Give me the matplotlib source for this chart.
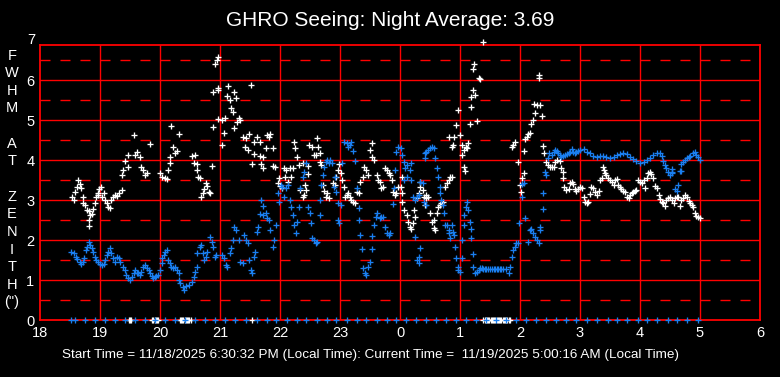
import matplotlib
matplotlib.use("Agg")
import matplotlib.pyplot as plt

# hours after 18:00 local time, FWHM in arcsec
white_hr = [0.53, 0.56, 0.58, 0.61, 0.64, 0.67, 0.69, 0.71, 0.72, 0.75, 0.78, 0.81, 0.82, 0.82, 0.83, 0.86, 0.89,
            0.92, 0.93, 0.96, 0.97, 0.99, 1.01, 1.03, 1.06, 1.08, 1.11, 1.14, 1.17, 1.19, 1.22, 1.25, 1.29, 1.32,
            1.36, 1.37, 1.38, 1.42, 1.46, 1.47, 1.56, 1.58, 1.61, 1.67, 1.69, 1.72, 1.75, 1.79, 1.83, 2.00, 2.04,
            2.08, 2.12, 2.14, 2.16, 2.17, 2.19, 2.21, 2.25, 2.28, 2.31, 2.54, 2.57, 2.58, 2.61, 2.62, 2.64, 2.67,
            2.68, 2.71, 2.73, 2.76, 2.78, 2.81, 2.84, 2.86, 2.88, 2.89, 2.92, 2.95, 2.97, 2.97, 2.97, 2.97,
            3.03, 3.03, 3.06, 3.08, 3.12, 3.14, 3.16, 3.18, 3.21, 3.23, 3.24, 3.27, 3.28, 3.31, 3.33, 3.39, 3.42,
            3.44, 3.47, 3.49, 3.51, 3.54, 3.56, 3.56, 3.61, 3.66, 3.67, 3.69, 3.71, 3.72, 3.77, 3.79, 3.82, 3.83,
            3.88, 3.89, 3.92, 3.96, 3.99, 4.00, 4.03, 4.06, 4.08, 4.10, 4.14, 4.17, 4.19, 4.21, 4.23, 4.25, 4.29,
            4.31, 4.34, 4.38, 4.39, 4.40, 4.42, 4.44, 4.46, 4.47, 4.49, 4.53, 4.56, 4.60, 4.62, 4.64, 4.67, 4.67,
            4.69, 4.71, 4.73, 4.77, 4.78, 4.81, 4.89, 4.92, 4.94, 4.97, 4.99, 5.01, 5.03, 5.06, 5.08, 5.11, 5.14,
            5.17, 5.19, 5.22, 5.25, 5.28, 5.32, 5.34, 5.38, 5.40, 5.44, 5.47, 5.50, 5.53, 5.54, 5.57, 5.61, 5.64,
            5.67, 5.69, 5.72, 5.75, 5.78, 5.81, 5.83, 5.86, 5.89, 5.92, 5.94, 5.97,
            6.03, 6.01, 6.04, 6.03, 6.07, 6.11, 6.14, 6.17, 6.19, 6.22, 6.25, 6.23, 6.28, 6.31, 6.33, 6.34, 6.38,
            6.40, 6.43, 6.44, 6.47, 6.42, 6.50, 6.53, 6.56, 6.58, 6.57, 6.61, 6.64, 6.67, 6.69, 6.71, 6.75, 6.78,
            6.81, 6.83, 6.86, 6.81, 6.86, 6.89, 6.90, 6.93, 6.97, 7.00, 7.03, 7.06, 7.04, 7.10, 7.12, 7.14, 7.06,
            7.08, 7.16, 7.18, 7.19, 7.21, 7.25, 7.29, 7.31, 7.33, 7.23, 7.22, 7.38,
            7.97, 8.06, 8.04, 8.00, 8.01, 8.07, 8.08, 7.89, 7.86, 7.92, 8.11, 8.14, 8.17, 8.19, 8.22, 8.25, 8.23,
            8.29, 8.33, 8.36, 8.31, 8.32, 8.38, 8.40, 8.44, 8.47, 8.50, 8.53, 8.56, 8.58, 8.61, 8.66, 8.69, 8.72,
            8.71, 8.73, 8.77, 8.81, 8.83, 8.86, 8.89, 8.92, 8.94, 8.97,
            9.00, 9.03, 9.06, 9.08, 9.11, 9.14, 9.17, 9.19, 9.22, 9.25, 9.28, 9.31, 9.33, 9.36, 9.38, 9.40, 9.42,
            9.44, 9.47, 9.50, 9.53, 9.56, 9.58, 9.61, 9.64, 9.67, 9.69, 9.72, 9.75, 9.78, 9.81, 9.83, 9.86, 9.89,
            9.92, 9.94, 9.97, 10.00, 10.03, 10.06, 10.08, 10.11, 10.14, 10.17, 10.19, 10.22, 10.25, 10.28, 10.31,
            10.33, 10.36, 10.39, 10.42, 10.44, 10.47, 10.50, 10.53, 10.56, 10.58, 10.61, 10.64, 10.67, 10.69,
            10.72, 10.75, 10.78, 10.81, 10.83, 10.86, 10.89, 10.92, 10.94, 10.97, 11.00]
white_fwhm = [3.08, 3.00, 3.21, 3.33, 3.50, 3.40, 3.29, 3.08, 2.93, 2.88, 2.75, 2.73, 2.50, 2.36, 2.63, 2.65, 2.77,
              2.93, 3.07, 3.17, 3.13, 3.27, 3.33, 3.08, 3.17, 3.00, 2.92, 2.83, 2.79, 3.00, 3.08, 3.13, 3.10, 3.18,
              3.25, 3.62, 3.75, 3.98, 4.12, 3.82, 4.62, 4.12, 4.19, 4.08, 3.82, 3.75, 3.62, 3.68, 4.40, 3.68, 3.58,
              3.54, 3.52, 3.75, 3.93, 4.08, 4.84, 4.32, 4.18, 4.23, 4.64, 4.11, 3.92, 4.12, 3.90, 3.75, 3.57, 3.54,
              3.08, 3.17, 3.27, 3.42, 3.35, 3.21, 3.17, 3.85, 4.82, 5.71, 6.40, 6.50, 6.57, 5.75, 5.02, 5.80,
              5.00, 4.38, 4.67, 5.04, 5.60, 5.85, 5.50, 5.31, 5.21, 4.79, 5.70, 5.55, 4.96, 5.04, 5.00, 4.57, 4.32,
              4.54, 4.25, 4.65, 5.88, 3.90, 4.46, 4.14, 4.58, 4.46, 4.10, 3.90, 3.79, 4.07, 4.29, 4.63, 4.57, 4.65,
              4.29, 3.85, 3.82, 3.43, 3.54, 3.35, 3.29, 3.79, 3.58, 3.75, 3.46, 3.79, 3.58, 3.79, 4.46, 4.29, 4.08,
              3.88, 3.25, 3.08, 3.92, 3.13, 3.38, 3.25, 3.65, 3.85, 4.38, 4.32, 4.13, 4.13, 4.54, 4.32, 4.18, 3.96,
              3.88, 3.38, 3.23, 3.08, 3.17, 3.04, 3.42, 3.38, 3.58, 3.75, 3.90, 3.67, 3.50, 3.33, 3.08, 3.13, 3.17,
              3.08, 3.00, 2.96, 2.92, 3.21, 3.18, 3.46, 3.58, 3.83, 3.75, 3.63, 4.25, 4.42, 4.08, 4.00, 3.63, 3.50,
              3.46, 3.29, 3.33, 3.79, 3.75, 3.67, 3.63, 3.50, 3.21, 3.13, 3.17, 3.33,
              3.58, 3.33, 3.17, 2.96, 2.75, 2.63, 2.46, 2.33, 2.27, 2.42, 2.58, 2.75, 3.04, 3.17, 3.33, 3.46, 3.25,
              3.08, 3.04, 3.13, 3.08, 2.88, 2.67, 2.46, 2.29, 2.25, 2.50, 2.68, 2.83, 2.88, 2.92, 2.96, 3.33, 3.42,
              3.50, 3.58, 3.58, 4.58, 4.33, 4.38, 4.58, 4.88, 5.25, 4.63, 4.38, 4.25, 4.13, 4.33, 4.29, 4.42, 3.83,
              3.73, 4.90, 5.57, 5.32, 5.75, 5.63, 4.98, 6.04, 6.02, 6.40, 6.27, 6.94,
              3.94, 3.67, 3.54, 3.38, 3.21, 4.23, 4.52, 4.38, 4.33, 4.46, 4.58, 4.65, 4.68, 4.90, 5.00, 5.18, 5.40,
              5.38, 5.38, 5.11, 6.13, 6.04, 4.36, 4.18, 3.96, 3.88, 3.83, 3.82, 3.82, 3.96, 4.00, 3.98, 3.79, 3.71,
              3.54, 3.33, 3.25, 3.27, 3.43, 3.46, 3.40, 3.27, 3.23, 3.27,
              3.33, 3.29, 3.07, 2.96, 2.92, 2.96, 3.15, 3.33, 3.29, 3.21, 3.13, 3.23, 3.50, 3.54, 3.83, 3.75, 3.67,
              3.63, 3.54, 3.50, 3.46, 3.38, 3.50, 3.52, 3.38, 3.32, 3.27, 3.23, 3.21, 3.08, 3.04, 3.13, 3.18, 3.21,
              3.23, 3.25, 3.50, 3.46, 3.43, 3.50, 3.29, 3.54, 3.68, 3.71, 3.65, 3.54, 3.35, 3.29, 3.13,
              3.02, 2.96, 2.92, 2.85, 3.00, 3.04, 3.08, 3.00, 2.92, 3.04, 3.07, 3.08, 2.85, 3.00,
              3.04, 3.13, 3.08, 2.98, 2.92, 2.88, 2.82, 2.68, 2.60, 2.57, 2.54]

blue_hr = [0.51, 0.56, 0.60, 0.62, 0.66, 0.68, 0.71, 0.73, 0.77, 0.79, 0.82, 0.83, 0.86, 0.89, 0.92, 0.94, 0.97,
           1.00, 1.03, 1.06, 1.08, 1.11, 1.14, 1.17, 1.19, 1.22, 1.25, 1.29, 1.32, 1.34, 1.38, 1.42, 1.44, 1.47,
           1.50, 1.53, 1.56, 1.58, 1.61, 1.64, 1.67, 1.69, 1.72, 1.75, 1.78, 1.81, 1.83, 1.86, 1.89, 1.92, 1.94,
           1.97, 2.00, 2.03, 2.04, 2.07, 2.08, 2.11, 2.14, 2.17, 2.19, 2.22, 2.25, 2.28, 2.31, 2.32, 2.34, 2.38,
           2.40, 2.44, 2.49, 2.53, 2.56, 2.58, 2.61, 2.62, 2.66, 2.69, 2.71, 2.73, 2.76, 2.79, 2.83, 2.86, 2.89,
           2.92, 2.94,
           3.03, 3.07, 3.10, 3.12, 3.16, 3.18, 3.21, 3.23, 3.27, 3.31, 3.34, 3.38, 3.40, 3.43, 3.47, 3.49, 3.51,
           3.53, 3.56, 3.58, 3.61, 3.64, 3.66, 3.68, 3.71, 3.72, 3.77, 3.79, 3.82, 3.84, 3.88, 3.90, 3.93, 3.97,
           3.99, 4.01, 4.04, 4.07, 4.10, 4.14, 4.17, 4.19, 4.21, 4.23, 4.27, 4.29, 4.32, 4.34, 4.38, 4.40, 4.43,
           4.47, 4.50, 4.51, 4.54, 4.57, 4.60, 4.62, 4.66, 4.67, 4.69, 4.71, 4.73, 4.77, 4.79, 4.82, 4.84, 4.86,
           4.90, 4.92, 4.94, 4.96, 4.97, 4.99, 5.01, 5.04, 5.07, 5.11, 5.14, 5.17, 5.19, 5.22, 5.25, 5.29, 5.31,
           5.32, 5.33, 5.36, 5.39, 5.42, 5.44, 5.47, 5.50, 5.53, 5.54, 5.57, 5.60, 5.62, 5.66, 5.68, 5.72, 5.75,
           5.78, 5.81, 5.84, 5.88, 5.90, 5.92, 5.94, 5.97,
           6.01, 6.03, 6.06, 6.08, 6.12, 6.16, 6.18, 6.11, 6.07, 6.19, 6.22, 6.25, 6.28, 6.31, 6.34, 6.38, 6.40,
           6.43, 6.42, 6.44, 6.47, 6.50, 6.53, 6.56, 6.58, 6.42, 6.61, 6.64, 6.66, 6.67, 6.69, 6.72, 6.73, 6.75,
           6.78, 6.81, 6.82, 6.83, 6.86, 6.89, 6.90, 6.92, 6.93, 6.96, 6.97, 7.00, 7.03, 7.04, 7.06, 7.07, 7.10,
           7.12, 7.14, 7.16, 7.18, 7.19, 7.21, 7.22, 7.25, 7.28, 7.31, 7.33, 7.36, 7.39, 7.42, 7.44, 7.47, 7.50,
           7.53, 7.56, 7.58, 7.61, 7.64, 7.67, 7.69, 7.72, 7.77, 7.81, 7.83, 7.86, 7.89, 7.92, 7.94, 7.97, 7.99,
           8.03, 8.03, 8.06, 8.08, 8.14, 8.17, 8.19, 8.22, 8.25, 8.28, 8.31, 8.33, 8.34, 8.39, 8.38, 8.42, 8.43,
           8.46, 8.49, 8.53, 8.56, 8.58, 8.61, 8.64, 8.67, 8.69, 8.72, 8.75, 8.78, 8.81, 8.83, 8.86, 8.89, 8.92,
           8.94, 8.97, 6.31, 6.29, 6.32, 6.34, 6.25,
           9.00, 9.06, 9.11, 9.17, 9.22, 9.28, 9.33, 9.39, 9.44, 9.50, 9.56, 9.61, 9.67, 9.72, 9.78, 9.83, 9.89,
           9.94, 10.00, 10.06, 10.11, 10.17, 10.22, 10.28, 10.33, 10.36, 10.39, 10.42, 10.44, 10.47, 10.50,
           10.53, 10.54, 10.58, 10.61, 10.64, 10.67, 10.69, 10.72, 10.75, 10.78, 10.81, 10.83, 10.89, 10.92,
           10.94, 10.97, 11.00, 10.54, 10.68]
blue_fwhm = [1.71, 1.67, 1.58, 1.52, 1.46, 1.40, 1.46, 1.54, 1.75, 1.83, 1.96, 1.88, 1.79, 1.71, 1.58, 1.50, 1.46,
             1.40, 1.38, 1.40, 1.50, 1.63, 1.71, 1.79, 1.67, 1.54, 1.46, 1.58, 1.54, 1.46, 1.33, 1.25, 1.13, 1.04,
             1.00, 1.08, 1.17, 1.25, 1.17, 1.17, 1.13, 1.21, 1.33, 1.38, 1.29, 1.25, 1.17, 1.10, 1.04, 1.08, 1.10,
             1.13, 1.25, 1.42, 1.54, 1.63, 1.71, 1.75, 1.50, 1.42, 1.33, 1.29, 1.33, 1.25, 1.17, 1.00, 0.92, 0.83,
             0.75, 0.85, 0.88, 0.96, 1.08, 1.21, 1.33, 1.67, 1.83, 1.88, 1.67, 1.50, 1.58, 1.71, 2.08, 1.96, 1.83,
             1.58, 1.63,
             1.63, 1.54, 1.38, 1.33, 1.67, 1.79, 2.00, 2.33, 2.25, 2.00, 1.46, 1.42, 2.13, 2.00, 1.92, 1.50, 1.25,
             1.17, 1.58, 1.71, 2.21, 2.33, 2.65, 3.00, 2.85, 2.63, 2.67, 2.54, 2.50, 2.25, 1.83, 2.00, 2.38, 3.17,
             2.96, 3.38, 3.33, 3.08, 3.29, 3.38, 3.00, 2.83, 2.63, 2.38, 2.17, 2.46, 2.83, 3.29, 3.58, 3.71, 3.92,
             2.83, 2.67, 2.42, 2.04, 2.00, 1.93, 1.96, 2.63, 3.00, 3.38, 3.63, 3.83, 3.96, 4.00, 3.92, 4.00, 3.93,
             3.33, 3.58, 3.21, 2.92, 2.50, 2.42, 2.88, 3.92, 4.46, 4.42, 4.32, 4.38, 4.46, 4.23, 3.98, 3.29, 2.79,
             2.50, 2.13, 1.77, 1.29, 1.17, 1.13, 1.33, 1.46, 1.77, 2.10, 2.38, 2.58, 2.67, 2.54, 2.58, 2.58, 2.33,
             2.17, 2.13, 2.17, 2.90, 3.29, 3.75, 4.21, 4.33,
             4.29, 4.13, 3.96, 3.79, 3.88, 3.75, 3.92, 3.58, 3.50, 3.50, 3.08, 3.00, 3.08, 3.13, 3.46, 3.42, 2.96,
             2.88, 4.17, 4.21, 4.25, 4.29, 4.33, 4.29, 4.04, 4.04, 3.79, 3.58, 3.33, 3.17, 3.00, 2.88, 2.67, 2.38,
             2.38, 2.25, 2.17, 2.04, 2.38, 2.21, 2.13, 1.83, 1.54, 1.32, 1.25, 1.21, 1.54, 2.00, 2.38, 2.63, 2.82,
             2.96, 2.75, 2.46, 2.27, 2.04, 1.65, 1.33, 1.17, 1.21, 1.25, 1.29, 1.29, 1.27, 1.27, 1.27, 1.27, 1.27,
             1.27, 1.27, 1.27, 1.27, 1.27, 1.27, 1.27, 1.27, 1.27, 1.18, 1.33, 1.58, 1.75, 1.83, 1.92, 1.92, 2.43,
             3.08, 3.40, 3.42, 2.54, 1.96, 2.25, 2.27, 2.17, 2.08, 2.00, 1.92, 2.25, 2.33, 3.18, 2.77, 3.71, 3.63,
             4.04, 4.17, 4.13, 4.19, 4.25, 4.23, 4.17, 4.13, 4.08, 4.10, 4.13, 4.15, 4.18, 4.21, 4.27, 4.21, 4.18,
             4.21, 4.23, 1.58, 1.50, 1.42, 1.79, 2.08,
             4.25, 4.27, 4.21, 4.17, 4.10, 4.08, 4.10, 4.10, 4.08, 4.04, 4.08, 4.13, 4.15, 4.17, 4.15, 4.08, 4.02,
             3.98, 3.93, 3.96, 4.00, 4.04, 4.13, 4.18, 4.17, 4.10, 3.98, 3.88, 3.79, 3.71, 3.63,
             3.68, 3.77, 3.27, 3.23, 3.38, 3.73, 3.90, 3.96, 4.00, 4.04, 4.07, 4.10, 4.17, 4.21,
             4.13, 4.07, 4.00, 3.71, 3.73]

# samples logged as zero (drawn on the axis)
blue_zero_hr = [0.51, 0.58, 0.75, 0.92, 1.08, 1.25, 1.42, 1.58, 1.75, 1.92, 2.08, 2.25, 2.42, 2.58, 2.75, 2.92,
                3.08, 3.25, 3.43, 3.61, 3.78, 3.94, 4.11, 4.28, 4.44, 4.61, 4.78, 4.94, 5.11, 5.28, 5.44, 5.61,
                5.78, 5.94, 6.10, 6.27, 6.43, 6.60, 6.77, 6.93, 7.10, 7.27, 7.43, 7.60, 7.77, 7.93, 8.10, 8.27,
                8.43, 8.60, 8.77, 8.94, 9.12, 9.29, 9.46, 9.62, 9.79, 9.96, 10.12, 10.29, 10.46, 10.62, 10.79, 10.96]
white_zero_hr = [1.48, 1.50, 1.52, 1.87, 1.89, 1.91, 1.93, 1.95, 1.97, 2.33, 2.35, 2.37, 2.39, 2.41, 2.43, 2.45,
                 2.47, 2.49, 2.51, 3.53,
                 7.39, 7.41, 7.43, 7.45, 7.47, 7.49, 7.51, 7.53, 7.55, 7.57, 7.59, 7.61, 7.63, 7.65, 7.67, 7.69,
                 7.71, 7.73, 7.75, 7.77, 7.79, 7.81, 7.83]

hour_labels = ['18', '19', '20', '21', '22', '23', '0', '1', '2', '3', '4', '5', '6']
night_avg = 3.69
start_txt = '11/18/2025 6:30:32 PM'
now_txt = '11/19/2025 5:00:16 AM'

plt.rcParams['font.family'] = ['Liberation Sans', 'DejaVu Sans']
RED = '#ff0000'
BLUE = '#1a7ff0'

fig = plt.figure(figsize=(7.8, 3.77), dpi=100, facecolor='black')
ax = fig.add_axes([40/780, 57/377, 720/780, 275/377], facecolor='black')

ax.set_xlim(0, 12)
ax.set_ylim(0, 6.875)

# grid: solid on whole units, dashed on halves
for h in range(1, 12):
    ax.axvline(h, color=RED, lw=1.0, zorder=1)
for v in range(1, 7):
    ax.axhline(v, color=RED, lw=1.0, zorder=1)
for v in range(0, 7):
    ax.axhline(v + 0.5, color=RED, lw=1.0, dashes=(7.2, 7.2), zorder=1)

mk = dict(marker='+', linestyle='none', markersize=5.0, markeredgewidth=0.95, clip_on=False, zorder=3)
ax.plot(white_hr, white_fwhm, color='white', **mk)
ax.plot(white_zero_hr, [0] * len(white_zero_hr), color='white', **mk)
ax.plot(blue_hr, blue_fwhm, color=BLUE, **mk)
ax.plot(blue_zero_hr, [0] * len(blue_zero_hr), color=BLUE, **mk)

for s in ax.spines.values():
    s.set_color(RED)
    s.set_linewidth(1.3)

ax.set_xticks(range(13))
ax.set_xticklabels(hour_labels)
ax.set_yticks(range(7))
ax.tick_params(length=0, colors='white', labelsize=10.5, pad=4)
ax.text(-0.007, 7, '7', transform=ax.get_yaxis_transform(), color='white', fontsize=10.5,
        ha='right', va='center', clip_on=False)

fig.text(0.5, 1 - 20/377, f'GHRO Seeing: Night Average: {night_avg}', color='white', fontsize=15,
         ha='center', va='center')
fig.text(12/780, 1 - 179/377, '\n'.join(list('FWHM') + [' '] + list('AT') + [' '] + list('ZENITH') + ['(")']),
         color='white', fontsize=10.5, ha='center', va='center', multialignment='center', linespacing=1.33)
fig.text(370/780, 1 - 355/377,
         f'Start Time = {start_txt} (Local Time): Current Time =  {now_txt} (Local Time)',
         color='white', fontsize=9.7, ha='center', va='center')

fig.savefig('out.png', dpi=100, facecolor='black')
